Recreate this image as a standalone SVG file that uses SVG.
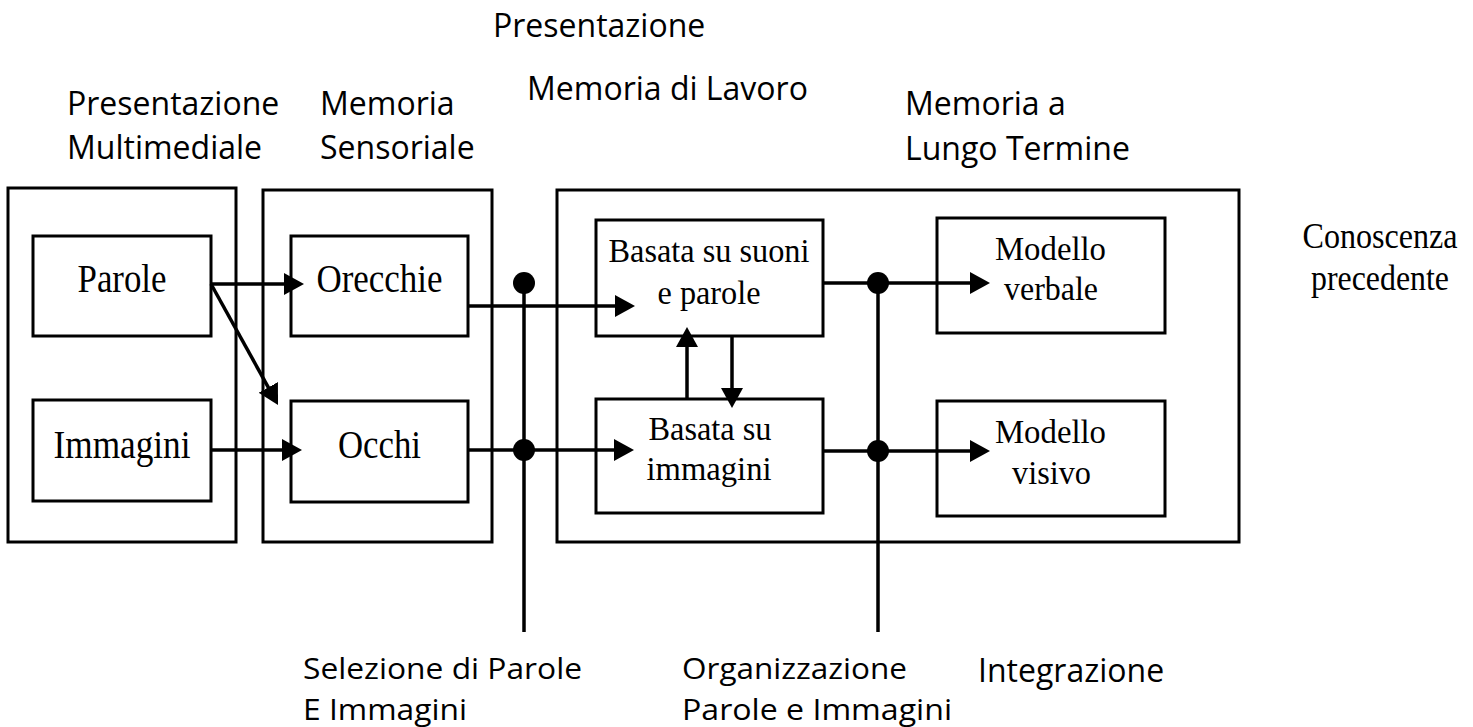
<svg xmlns="http://www.w3.org/2000/svg" width="1473" height="727" viewBox="0 0 1473 727">
<style>
.frame{fill:none;stroke:#000;stroke-width:3}
.box{fill:#fff;stroke:#000;stroke-width:3}
.lbl{font-family:"Open Sans","Liberation Sans",sans-serif;font-size:32px;fill:#000}
.lbs{font-family:"Open Sans","Liberation Sans",sans-serif;font-size:30px;fill:#000}
.serif{font-family:"Liberation Serif","Times New Roman",serif;fill:#000;text-anchor:middle}
.big{font-size:40px}
.mid{font-size:34px}
.conn{fill:none;stroke:#000;stroke-width:3.5}
.dot{fill:#000}
</style>
<defs>
<marker id="arr" markerUnits="userSpaceOnUse" markerWidth="22" markerHeight="24" refX="14" refY="11" orient="auto">
<path d="M0,0 L20,11 L0,22 Z" fill="#000"/>
</marker>
</defs>
<rect width="1473" height="727" fill="#fff"/>

<g id="labels-top">
<text class="lbl" x="493" y="37">Presentazione</text>
<text class="lbl" x="67" y="115">Presentazione<tspan x="67" dy="44">Multimediale</tspan></text>
<text class="lbl" x="320" y="115">Memoria<tspan x="320" dy="44">Sensoriale</tspan></text>
<text class="lbl" x="527" y="100">Memoria di Lavoro</text>
<text class="lbl" x="905" y="115">Memoria a<tspan x="905" dy="45">Lungo Termine</tspan></text>
</g>

<g id="presentazione-multimediale"><rect class="frame" x="8" y="188" width="228" height="354"/></g>
<g id="memoria-sensoriale"><rect class="frame" x="263" y="190" width="229" height="352"/></g>
<g id="memoria-lavoro-lungo"><rect class="frame" x="557" y="190" width="682" height="352"/></g>

<g id="parole"><rect class="box" x="33" y="236" width="178" height="100"/>
<text class="serif big" x="122" y="292" textLength="89" lengthAdjust="spacingAndGlyphs">Parole</text></g>
<g id="immagini"><rect class="box" x="33" y="400" width="178" height="101"/>
<text class="serif big" x="122" y="458" textLength="137" lengthAdjust="spacingAndGlyphs">Immagini</text></g>
<g id="orecchie"><rect class="box" x="291" y="236" width="177" height="100"/>
<text class="serif big" x="379.5" y="292" textLength="126" lengthAdjust="spacingAndGlyphs">Orecchie</text></g>
<g id="occhi"><rect class="box" x="291" y="401" width="177" height="101"/>
<text class="serif big" x="379.5" y="458" textLength="83" lengthAdjust="spacingAndGlyphs">Occhi</text></g>

<g id="basata-suoni"><rect class="box" x="596" y="220" width="227" height="116"/>
<text class="serif mid" x="709" y="262" textLength="201" lengthAdjust="spacingAndGlyphs">Basata su suoni</text>
<text class="serif mid" x="709" y="304" textLength="103" lengthAdjust="spacingAndGlyphs">e parole</text></g>
<g id="basata-immagini"><rect class="box" x="596" y="399" width="227" height="114"/>
<text class="serif mid" x="710" y="440" textLength="123" lengthAdjust="spacingAndGlyphs">Basata su</text>
<text class="serif mid" x="709" y="480" textLength="125" lengthAdjust="spacingAndGlyphs">immagini</text></g>

<g id="modello-verbale"><rect class="box" x="937" y="218" width="228" height="115"/>
<text class="serif mid" x="1050.5" y="260" textLength="111" lengthAdjust="spacingAndGlyphs">Modello</text>
<text class="serif mid" x="1051" y="300" textLength="94" lengthAdjust="spacingAndGlyphs">verbale</text></g>
<g id="modello-visivo"><rect class="box" x="937" y="401" width="228" height="115"/>
<text class="serif mid" x="1050.5" y="443" textLength="111" lengthAdjust="spacingAndGlyphs">Modello</text>
<text class="serif mid" x="1051.5" y="484" textLength="79" lengthAdjust="spacingAndGlyphs">visivo</text></g>

<g id="conoscenza">
<text class="serif" style="font-size:35px" x="1380" y="248" textLength="155" lengthAdjust="spacingAndGlyphs">Conoscenza</text>
<text class="serif" style="font-size:35px" x="1380" y="290" textLength="138" lengthAdjust="spacingAndGlyphs">precedente</text>
</g>

<g id="connectors">
<path class="conn" d="M211,284 H298" marker-end="url(#arr)"/>
<path class="conn" d="M211,284 L275.1,399.7" marker-end="url(#arr)"/>
<path class="conn" d="M211,450 H296" marker-end="url(#arr)"/>
<path class="conn" d="M468,306 H629" marker-end="url(#arr)"/>
<path class="conn" d="M468,450 H628" marker-end="url(#arr)"/>
<path class="conn" d="M524,283 V632"/>
<path class="conn" d="M687,399 V333" marker-end="url(#arr)"/>
<path class="conn" d="M732,336 V402" marker-end="url(#arr)"/>
<path class="conn" d="M823,283 H984" marker-end="url(#arr)"/>
<path class="conn" d="M823,451 H984" marker-end="url(#arr)"/>
<path class="conn" d="M878,283 V632"/>
<circle class="dot" cx="524" cy="283" r="11"/>
<circle class="dot" cx="524" cy="450" r="11"/>
<circle class="dot" cx="878" cy="283" r="11"/>
<circle class="dot" cx="878" cy="451" r="11"/>
</g>

<g id="labels-bottom">
<text class="lbs" x="303" y="679" textLength="279" lengthAdjust="spacingAndGlyphs">Selezione di Parole</text>
<text class="lbs" x="303" y="720" textLength="164" lengthAdjust="spacingAndGlyphs">E Immagini</text>
<text class="lbs" x="682" y="679" textLength="225" lengthAdjust="spacingAndGlyphs">Organizzazione</text>
<text class="lbs" x="682" y="720" textLength="270" lengthAdjust="spacingAndGlyphs">Parole e Immagini</text>
<text class="lbl" x="978" y="682">Integrazione</text>
</g>
</svg>
